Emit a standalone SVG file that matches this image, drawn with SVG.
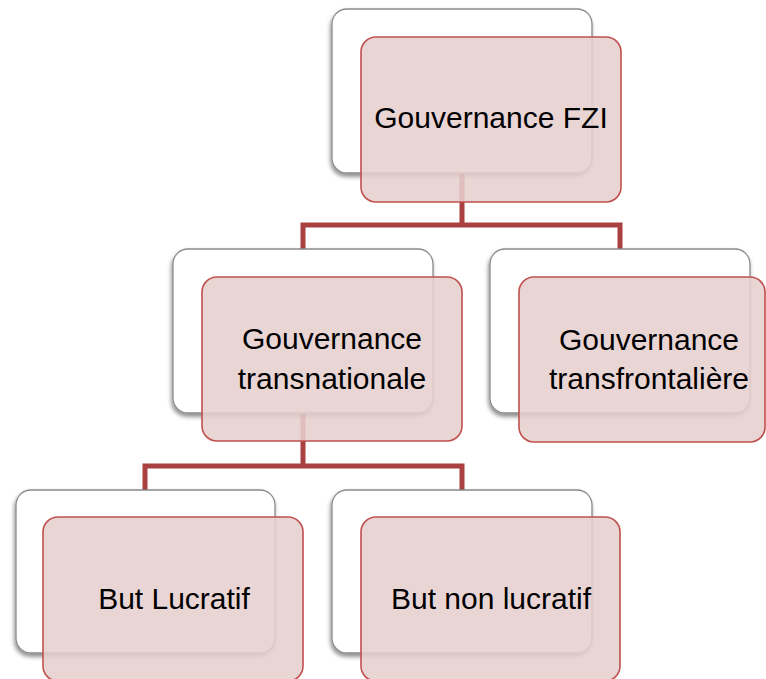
<svg xmlns="http://www.w3.org/2000/svg" width="766" height="679" viewBox="0 0 766 679">
<defs>
<filter id="sh" x="-10%" y="-10%" width="120%" height="125%">
<feDropShadow dx="-1" dy="3" stdDeviation="2" flood-color="#000" flood-opacity="0.45"/>
</filter>
<style>
.back{fill:#ffffff;stroke:#8a8a8a;stroke-width:1.3;filter:url(#sh)}
.front{fill:#e7cfcf;fill-opacity:0.88;stroke:#c0504d;stroke-width:1.6}
.lbl{font-family:"Liberation Sans",Arial,sans-serif;font-size:30px;fill:#000;text-anchor:middle}
.conn{fill:none;stroke:#a8413f;stroke-width:5;stroke-linejoin:miter}
</style>
</defs>
<rect width="766" height="679" fill="#fff"/>
<g id="connectors">
<path class="conn" d="M462,173 V225 M303,249 V225 H620 V249"/>
<path class="conn" d="M303,413 V466 M145,490 V466 H462 V490"/>
</g>
<g id="n-top">
<rect class="back" x="332" y="9" width="260" height="164" rx="15"/>
<rect class="front" x="361" y="37" width="260" height="165" rx="15"/>
<text class="lbl" x="491" y="128">Gouvernance FZI</text>
</g>
<g id="n-transnationale">
<rect class="back" x="173" y="249" width="260" height="164" rx="15"/>
<rect class="front" x="202" y="277" width="260" height="164" rx="15"/>
<text class="lbl" x="332" y="349">Gouvernance</text>
<text class="lbl" x="332" y="389">transnationale</text>
</g>
<g id="n-transfrontaliere">
<rect class="back" x="490" y="249" width="260" height="164" rx="15"/>
<rect class="front" x="519" y="277" width="246" height="165" rx="15"/>
<text class="lbl" x="649" y="350">Gouvernance</text>
<text class="lbl" x="649" y="389">transfrontalière</text>
</g>
<g id="n-lucratif">
<rect class="back" x="16" y="490" width="259" height="163" rx="15"/>
<rect class="front" x="43" y="517" width="260" height="164" rx="15"/>
<text class="lbl" x="174" y="609">But Lucratif</text>
</g>
<g id="n-nonlucratif">
<rect class="back" x="332" y="490" width="260" height="163" rx="15"/>
<rect class="front" x="361" y="517" width="259" height="164" rx="15"/>
<text class="lbl" x="491" y="609">But non lucratif</text>
</g>
</svg>
